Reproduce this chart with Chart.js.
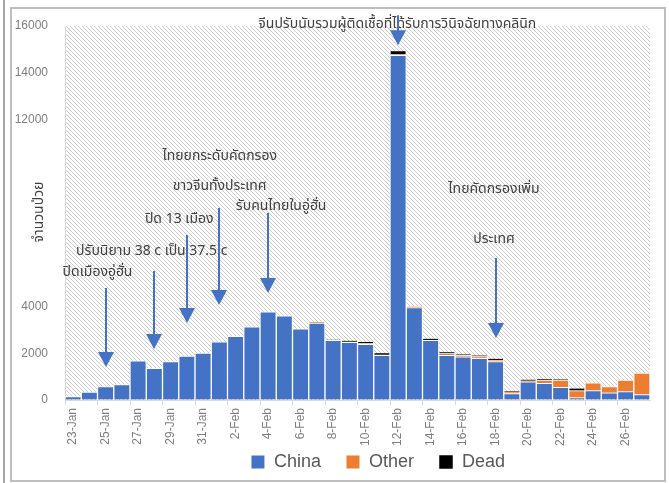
<!DOCTYPE html>
<html><head><meta charset="utf-8">
<script src="https://cdn.jsdelivr.net/npm/chart.js@4.4.1/dist/chart.umd.min.js"></script>
<style>html,body{margin:0;padding:0;background:#fff}#wrap{position:relative;width:669px;height:483px}</style>
</head><body><div id="wrap"><canvas id="c" width="669" height="483"></canvas></div>
<script>
const categories = ['23-Jan','24-Jan','25-Jan','26-Jan','27-Jan','28-Jan','29-Jan','30-Jan','31-Jan',
  '1-Feb','2-Feb','3-Feb','4-Feb','5-Feb','6-Feb','7-Feb','8-Feb','9-Feb','10-Feb','11-Feb','12-Feb',
  '13-Feb','14-Feb','15-Feb','16-Feb','17-Feb','18-Feb','19-Feb','20-Feb','21-Feb','22-Feb','23-Feb',
  '24-Feb','25-Feb','26-Feb','27-Feb'];
const chinaCases = [150,340,570,655,1680,1355,1640,1880,2010,2490,2720,3135,3777,3605,3050,3290,2550,2465,2380,1910,14750,
  3950,2550,1910,1850,1780,1640,280,780,710,540,100,400,310,355,230];
const otherCases = [0,0,0,0,0,0,0,0,0,0,0,0,0,0,0,40,0,20,40,20,30,
  60,10,80,60,80,70,70,45,140,310,300,330,260,500,925];
const deadCases = [0,0,0,0,0,0,0,0,0,0,0,0,0,0,0,0,30,50,60,70,140,
  0,60,50,40,40,50,40,45,40,30,90,0,0,0,0];
const yTickValues = [0,2000,4000,12000,14000,16000];
const yAxisTitle = 'จำนวนป่วย';

const notes = [
  {text:'ปิดเมืองอู่ฮั่น', x:1.5, y:5430},
  {text:'ปรับนิยาม 38 c เป็น 37.5 c', x:4.84, y:6330},
  {text:'ปิด 13 เมือง', x:6.53, y:7700},
  {text:'ไทยยกระดับคัดกรอง', x:9.02, y:10390},
  {text:'ขาวจีนทั้งประเทศ', x:9.02, y:9110},
  {text:'รับคนไทยในอู่ฮั่น', x:12.8, y:8250},
  {text:'จีนปรับนับรวมผู้ติดเชื้อที่ได้รับการวินิจฉัยทางคลินิก', x:19.95, y:16035},
  {text:'ไทยคัดกรองเพิ่ม', x:25.9, y:8980},
  {text:'ประเทศ', x:25.9, y:6840}
];
const arrows = [
  {x:2, from:4790, to:1410},
  {x:5, from:5516, to:2180},
  {x:7, from:7055, to:3290},
  {x:9, from:8210, to:4060},
  {x:12, from:8000, to:4575},
  {x:20, from:16460, to:15180},
  {x:26, from:6070, to:2650}
];

const TICK_FONT = "'Liberation Sans', Arial, sans-serif";
const THAI_FONT = "Tahoma, 'Leelawadee UI', 'Noto Sans Thai', 'Noto Sans', sans-serif";

function makeHatch(){
  const p = document.createElement('canvas'); p.width = 4; p.height = 4;
  const g = p.getContext('2d');
  g.fillStyle = '#ffffff'; g.fillRect(0,0,4,4);
  g.fillStyle = '#cccccc';
  for (let i=0;i<4;i++) g.fillRect(i,i,1,1);
  return p;
}

const decor = {
  id:'decor',
  afterLayout(chart){
    const xs = chart.scales.x;
    xs.bottom = xs.top + 60;
    if (chart.legend) { chart.legend.left += 106; }
  },
  beforeDraw(chart){
    const {ctx, chartArea:a} = chart;
    ctx.save();
    ctx.fillStyle = ctx.createPattern(makeHatch(),'repeat');
    ctx.fillRect(a.left, a.top, a.right-a.left, a.bottom-a.top);
    ctx.restore();
  },
  afterDatasetsDraw(chart){
    const {ctx, scales:{x,y}} = chart;
    ctx.save();
    ctx.fillStyle = '#404040';
    ctx.font = "14px " + THAI_FONT;
    ctx.textAlign = 'center'; ctx.textBaseline = 'middle';
    notes.forEach(n => ctx.fillText(n.text, x.getPixelForValue(n.x), y.getPixelForValue(n.y)));
    ctx.strokeStyle = '#4472C4'; ctx.fillStyle = '#4472C4'; ctx.lineWidth = 2;
    arrows.forEach(ar => {
      const px = Math.round(x.getPixelForValue(ar.x));
      const y0 = y.getPixelForValue(ar.from), y1 = y.getPixelForValue(ar.to);
      ctx.beginPath(); ctx.moveTo(px, y0); ctx.lineTo(px, y1-12); ctx.stroke();
      ctx.beginPath(); ctx.moveTo(px-8, y1-15); ctx.lineTo(px+8, y1-15); ctx.lineTo(px, y1); ctx.closePath(); ctx.fill();
    });
    ctx.fillStyle = '#404040';
    ctx.font = "14px " + THAI_FONT;
    ctx.translate(x.left - 25, y.getPixelForValue(8040));
    ctx.rotate(-Math.PI/2);
    ctx.fillText(yAxisTitle, 0, 0);
    ctx.restore();
  },
  afterDraw(chart){
    const ctx = chart.ctx;
    ctx.save();
    ctx.strokeStyle = '#a6a6a6'; ctx.lineWidth = 2;
    ctx.beginPath(); ctx.moveTo(4,0); ctx.lineTo(4,483); ctx.stroke();
    ctx.strokeStyle = '#bfbfbf'; ctx.lineWidth = 2;
    ctx.strokeRect(11, 8, 654, 473);
    ctx.restore();
  }
};

new Chart(document.getElementById('c'), {
  type:'bar',
  data:{
    labels: categories,
    datasets:[
      {label:'China', data:chinaCases, backgroundColor:'#4472C4', borderColor:'#ffffff', borderWidth:1},
      {label:'Other', data:otherCases, backgroundColor:'#ED7D31', borderColor:'#ffffff', borderWidth:1},
      {label:'Dead', data:deadCases, backgroundColor:'#000000', borderColor:'#ffffff', borderWidth:{left:1,right:1,top:0,bottom:0}}
    ]
  },
  options:{
    responsive:false, animation:false,
    layout:{padding:{left:0,right:19,top:26,bottom:2}},
    datasets:{bar:{barPercentage:1, categoryPercentage:1}},
    plugins:{
      tooltip:{enabled:false},
      legend:{position:'bottom', labels:{boxWidth:14, boxHeight:14, padding:25, color:'#595959', font:{family:TICK_FONT, size:18}}}
    },
    scales:{
      x:{stacked:true, offset:true,
        grid:{offset:true, drawOnChartArea:false, tickLength:5, color:(c)=> (c.index%2===0 ? '#d9d9d9' : 'rgba(0,0,0,0)')},
        border:{color:'#d9d9d9'},
        ticks:{autoSkip:false, minRotation:90, maxRotation:90, padding:3, color:'#7f7f7f', font:{family:TICK_FONT, size:12},
          callback:function(v,i){ return i%2===0 ? this.getLabelForValue(v) : ''; }},
        afterFit:(s)=>{ s.height = 28; }
      },
      y:{stacked:true, min:0, max:16000,
        grid:{display:true, drawOnChartArea:false, drawTicks:false},
        border:{color:'#d9d9d9'},
        afterBuildTicks:(s)=>{ s.ticks = [0,2000,4000,6000,8000,10000,12000,14000,16000].map(v=>({value:v})); },
        ticks:{padding:17, color:'#7f7f7f', font:{family:TICK_FONT, size:12},
          callback:(v)=> yTickValues.includes(v) ? String(v) : ''},
        afterFit:(s)=>{ s.width = 65; }
      }
    }
  },
  plugins:[decor]
});
</script></body></html>
